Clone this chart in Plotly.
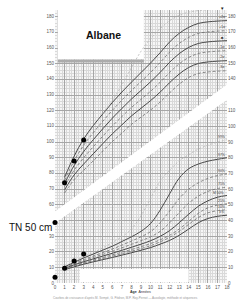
import plotly.graph_objects as go

# ---------------- data ----------------
ages = list(range(1, 19))

# height curves (cm), ages 1..18
h_plus2 = [77.0, 90.5, 101.5, 110.0, 117.5, 124.8, 131.5, 137.8, 143.9, 150.0, 156.6, 163.5, 169.0, 172.8, 175.3, 176.3, 176.8, 177.1]
h_plus1 = [75.0, 87.5, 97.5, 105.5, 112.8, 119.8, 126.3, 132.4, 138.2, 144.0, 150.3, 157.0, 162.5, 166.4, 168.9, 169.9, 170.4, 170.7]
h_mean = [73.0, 84.5, 93.5, 101.0, 108.0, 114.8, 121.0, 127.0, 132.5, 138.0, 144.0, 150.5, 156.0, 160.0, 162.5, 163.5, 164.0, 164.3]
h_minus1 = [71.0, 81.5, 89.5, 96.5, 103.3, 109.8, 115.8, 121.6, 126.8, 132.0, 137.7, 144.0, 149.5, 153.6, 156.1, 157.1, 157.6, 157.9]
h_minus2 = [69.0, 78.5, 85.5, 92.0, 98.5, 104.8, 110.5, 116.2, 121.1, 126.0, 131.4, 137.5, 143.0, 147.2, 149.7, 150.7, 151.2, 151.5]
h_minus3 = [67.0, 75.5, 81.5, 87.5, 93.8, 99.8, 105.3, 110.8, 115.4, 120.0, 125.1, 131.0, 136.5, 140.8, 143.3, 144.3, 144.8, 145.1]
h_early_ages = list(range(5, 19))
h_early = [117.5, 126.0, 136.0, 147.0, 157.5, 165.5, 172.0, 177.0, 180.5, 182.5, 183.5, 184.0, 184.3, 184.5]

# weight curves (kg), ages 1..18
w_light = [10.6, 13.8, 16.8, 19.5, 22.5, 25.8, 29.5, 34.5, 43.0, 54.0, 65.0, 72.0, 78.0, 82.0, 85.5, 88.0, 90.0, 91.5]
w_p97 = [10.3, 13.2, 16.0, 18.5, 21.0, 23.5, 26.5, 29.5, 33.0, 38.0, 46.5, 57.0, 67.0, 73.0, 76.0, 77.8, 79.0, 80.0]
w_p90 = [9.9, 12.6, 15.0, 17.2, 19.4, 21.7, 24.2, 26.8, 29.5, 32.8, 38.5, 46.0, 54.0, 60.0, 64.0, 66.8, 68.6, 69.6]
w_p75 = [9.6, 12.1, 14.3, 16.3, 18.3, 20.3, 22.5, 24.7, 27.0, 29.5, 33.0, 38.5, 45.0, 51.0, 55.5, 58.5, 60.3, 61.2]
w_p50 = [9.3, 11.6, 13.6, 15.4, 17.2, 19.0, 20.9, 22.8, 24.8, 27.0, 29.8, 33.5, 38.5, 44.0, 49.0, 52.5, 54.8, 55.9]
w_p25 = [9.0, 11.1, 13.0, 14.7, 16.3, 18.0, 19.7, 21.4, 23.2, 25.2, 27.6, 30.5, 34.5, 39.5, 44.5, 48.0, 49.8, 50.6]
w_p10 = [8.7, 10.7, 12.5, 14.1, 15.6, 17.1, 18.7, 20.3, 22.0, 23.8, 26.3, 29.2, 33.0, 37.5, 41.8, 44.8, 46.2, 46.8]
w_p3 = [8.4, 10.3, 12.0, 13.5, 14.9, 16.3, 17.8, 19.3, 20.9, 22.6, 24.8, 27.2, 30.5, 34.5, 38.5, 41.2, 42.6, 43.3]

# child's measurements
pt_h_ages = [0, 1, 2, 3]
pt_h = [48.2, 73.5, 87.5, 100.8]
pt_w_ages = [0, 1, 2, 3]
pt_w = [3.6, 9.5, 14.1, 18.6]

x_ticks = list(range(0, 19))
h_ticks_left = [60, 70, 80, 90, 100, 110, 120, 130, 140, 150, 160, 170, 180]
h_ticks_right = [140, 150, 160, 170, 180]
w_ticks_left = [0, 10, 20, 30]
w_grid = list(range(0, 180, 10))
w_label_max = 110

h_labels = ["+2σ", "+1σ", "■", "-1σ", "-2σ", "-3σ"]
w_labels = ["99%", "97%", "90%", "75%", "M 50%", "25%", "10%", "3%"]

# mask regions (chart layout, in axis units)
band_x = [-0.5, 18.5, 18.5, -0.5]
band_w = [43.4, 129.1, 119.3, 35.9]          # weight units
name_box_x = [0.3, 9.3, 9.3, 0.3]
name_box_h = [152.2, 152.2, 200.0, 200.0]   # height units
name_bar_h = [150.3, 150.3, 152.2, 152.2]
foot_box_x = [2.6, 14.0, 14.0, 2.6]
foot_box_w = [0.4, 0.4, 9.0, 9.0]

# ---------------- scales ----------------
H0 = 9.5
PX_PER_UNIT = 1.577
PLOT_H = 275
H_RANGE = [H0, H0 + PLOT_H / PX_PER_UNIT]
W_RANGE = [0, PLOT_H / PX_PER_UNIT]

FONT = "Liberation Sans, Arial, sans-serif"
SOLID = "#4a4a4a"
DASH = "#707070"
LIGHT = "#b4b4b4"

fig = go.Figure()


def mask(x, y, axis, color="white"):
    fig.add_trace(go.Scatter(x=x, y=y, yaxis=axis, mode="lines", fill="toself",
                             fillcolor=color, line=dict(width=0, color=color),
                             hoverinfo="skip", showlegend=False))


# base layer (height axis): name box, then height curves
mask(name_box_x, name_box_h, "y")
mask(name_box_x, name_bar_h, "y", "#ababab")

h_curves = [(h_plus2, "solid"), (h_plus1, "dash"), (h_mean, "solid"),
            (h_minus1, "dash"), (h_minus2, "solid"), (h_minus3, "dash")]
for vals, style in h_curves:
    fig.add_trace(go.Scatter(
        x=ages, y=vals, mode="lines", yaxis="y", line_shape="spline",
        line=dict(color=SOLID if style == "solid" else DASH,
                  width=1.0 if style == "solid" else 0.8,
                  dash="solid" if style == "solid" else "3px,2px"),
        hoverinfo="skip", showlegend=False))
fig.add_trace(go.Scatter(
    x=h_early_ages, y=h_early, mode="lines", yaxis="y", line_shape="spline",
    line=dict(color=LIGHT, width=0.8, dash="2px,2px"), hoverinfo="skip", showlegend=False))

# weight layer: band + bottom box, then weight curves
mask(band_x, band_w, "y2")
mask(foot_box_x, foot_box_w, "y2")

w_curves = [(w_light, "light"), (w_p97, "solid"), (w_p90, "dash"), (w_p75, "dash"),
            (w_p50, "solid"), (w_p25, "dash"), (w_p10, "dash"), (w_p3, "solid")]
for vals, style in w_curves:
    if style == "light":
        ln = dict(color=LIGHT, width=0.8, dash="2px,2px")
    elif style == "solid":
        ln = dict(color=SOLID, width=1.0)
    else:
        ln = dict(color=DASH, width=0.8, dash="3px,2px")
    fig.add_trace(go.Scatter(
        x=ages, y=vals, mode="lines", yaxis="y2", line_shape="spline",
        line=ln, hoverinfo="skip", showlegend=False))

fig.add_trace(go.Scatter(x=pt_w_ages, y=pt_w, mode="markers", yaxis="y2", cliponaxis=False,
                         marker=dict(color="black", size=5), hoverinfo="skip", showlegend=False))
# height points on the overlay height axis so they sit above the band
fig.add_trace(go.Scatter(x=pt_h_ages, y=pt_h, mode="markers", yaxis="y3", cliponaxis=False,
                         marker=dict(color="black", size=5), hoverinfo="skip", showlegend=False))
fig.add_trace(go.Scatter(x=[0], y=[0], yaxis="y4", mode="markers",
                         marker=dict(opacity=0), hoverinfo="skip", showlegend=False))

# ---------------- annotations ----------------
ann = []
ann.append(dict(text="<b>Albane</b>", xref="paper", yref="paper", x=(85 - 55) / 178, y=(285 - 27) / 275,
                showarrow=False, font=dict(size=10.5, family=FONT, color="#111")))
ann.append(dict(text="TN 50 cm", xref="paper", yref="y", x=(5 - 55) / 178, xanchor="left",
                y=45.0, showarrow=False, font=dict(size=10, family=FONT, color="#111")))
ann.append(dict(text="<b>Age</b>  Années", xref="paper", yref="paper", x=(143 - 55) / 178,
                y=(285 - 294.3) / 275, yanchor="middle", borderpad=0,
                showarrow=False, font=dict(size=3.6, family=FONT, color="#333")))
ann.append(dict(text="Courbes de croissance d'après M. Sempé, G. Pédron, M.P. Roy-Pernot — Auxologie, méthode et séquences",
                xref="paper", yref="paper", x=(128 - 55) / 178, y=(285 - 299.8) / 275, borderpad=0,
                yanchor="middle", showarrow=False, font=dict(size=3.0, family=FONT, color="#999")))
ann.append(dict(text="▼", xref="paper", yref="paper", x=(231 - 55) / 178, y=(285 - 8.5) / 275,
                borderpad=0, yanchor="middle", showarrow=False, font=dict(size=4.5, family=FONT, color="#222")))
for lab, vals in zip(h_labels, [h_plus2, h_plus1, h_mean, h_minus1, h_minus2, h_minus3]):
    ann.append(dict(text=lab, xref="x", yref="y", x=17.5, y=vals[-1] + 2.3, showarrow=False, borderpad=0,
                    font=dict(size=3.6 if lab != "■" else 4, family=FONT, color="#444")))
for lab, vals in zip(w_labels, [w_light, w_p97, w_p90, w_p75, w_p50, w_p25, w_p10, w_p3]):
    ann.append(dict(text=lab, xref="x", yref="y2", x=17.4 if lab != "M 50%" else 17.1, y=vals[-1] + 1.8,
                    showarrow=False, borderpad=0, font=dict(size=3.4, family=FONT, color="#444")))

tickfont = dict(size=4.5, family=FONT, color="#555")

fig.update_layout(
    width=246, height=300,
    margin=dict(l=55, r=13, t=10, b=15),
    paper_bgcolor="white", plot_bgcolor="#f6f6f6",
    showlegend=False,
    annotations=ann,
    xaxis=dict(range=[0, 18], tickmode="array", tickvals=x_ticks, ticktext=[str(v) for v in x_ticks],
               tickfont=tickfont, showgrid=True, gridcolor="#a6a6a6", gridwidth=0.6,
               minor=dict(dtick=0.25, tick0=0, showgrid=True, gridcolor="#d9d9d9", gridwidth=0.4),
               zeroline=False, showline=False, ticks="", ticklabelstandoff=0),
    yaxis=dict(range=H_RANGE, tickmode="array", tickvals=h_ticks_left, ticktext=[str(v) for v in h_ticks_left],
               tickfont=tickfont, showgrid=False, zeroline=False, showline=False, ticks="", side="left"),
    yaxis2=dict(range=W_RANGE, tickmode="array", tickvals=w_grid,
                ticktext=[str(v) if v <= w_label_max else "" for v in w_grid],
                tickfont=tickfont, showgrid=True, gridcolor="#a6a6a6", gridwidth=0.6,
                minor=dict(dtick=2, tick0=0, showgrid=True, gridcolor="#d9d9d9", gridwidth=0.4),
                zeroline=False, showline=False, ticks="", side="right", overlaying="y"),
    yaxis3=dict(range=H_RANGE, tickmode="array", tickvals=h_ticks_right, ticktext=[str(v) for v in h_ticks_right],
                tickfont=tickfont, showgrid=False, zeroline=False, showline=False, ticks="",
                side="right", overlaying="y"),
    yaxis4=dict(range=W_RANGE, tickmode="array", tickvals=w_ticks_left, ticktext=[str(v) for v in w_ticks_left],
                tickfont=tickfont, showgrid=False, zeroline=False, showline=False, ticks="",
                side="left", overlaying="y"),
)

fig.write_html("out.html")
